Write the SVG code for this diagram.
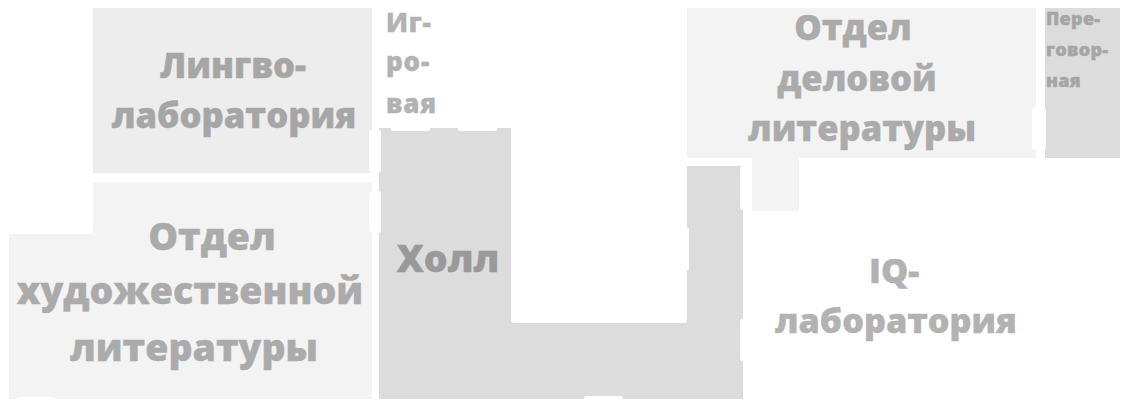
<svg xmlns="http://www.w3.org/2000/svg" width="1129" height="411" viewBox="0 0 1129 411">
<style>
text{font-family:"Open Sans","Noto Sans","DejaVu Sans",sans-serif;font-weight:800;text-anchor:middle;stroke-width:.4px}
.door{fill:#fff}
</style>
<rect width="1129" height="411" fill="#fff"/>
<g id="lingvo"><rect x="93" y="8" width="279" height="165" fill="#ededed"/>
<text font-size="34.6" fill="#a6a6a6" stroke="#a6a6a6"><tspan x="233" y="78">Лингво-</tspan><tspan x="234" y="128">лаборатория</tspan></text></g>
<g id="art"><path d="M93 182H372V399H9V234H90Q93 234 93 231Z" fill="#f3f3f3"/>
<text font-size="37.5" fill="#ababab" stroke="#ababab"><tspan x="212" y="250">Отдел</tspan><tspan x="190" y="304">художественной</tspan><tspan x="194" y="361">литературы</tspan></text></g>
<g id="hall"><path d="M379 128H511V320Q511 323 514 323H684Q687 323 687 320V166H743V399H379Z" fill="#dcdcdc"/>
<text font-size="37.5" fill="#999" stroke="#999"><tspan x="448" y="272">Холл</tspan></text></g>
<g id="game"><text font-size="26" letter-spacing=".8" fill="#b2b2b2" stroke="#b2b2b2" style="text-anchor:start"><tspan x="386" y="32">Иг-</tspan><tspan x="386" y="71">ро-</tspan><tspan x="386" y="113">вая</tspan></text></g>
<g id="business"><path d="M687 8H1036V158H799V211H752V158H687Z" fill="#f3f3f3"/>
<text font-size="34.5" fill="#ababab" stroke="#ababab"><tspan x="853" y="40">Отдел</tspan><tspan x="857" y="91">деловой</tspan><tspan x="862" y="141">литературы</tspan></text></g>
<g id="meeting"><rect x="1045" y="8" width="75" height="150" fill="#dcdcdc"/>
<text font-size="18" letter-spacing=".3" fill="#a5a5a5" stroke="#a5a5a5" style="text-anchor:start"><tspan x="1046" y="25">Пере-</tspan><tspan x="1046" y="56">говор-</tspan><tspan x="1046" y="87">ная</tspan></text></g>
<g id="iq"><text font-size="34.2" fill="#b2b2b2" stroke="#b2b2b2"><tspan x="894" y="283">IQ-</tspan><tspan x="896" y="333">лаборатория</tspan></text></g>
<g id="doors" class="door">
<rect x="369" y="130" width="12" height="42" rx="2"/><rect x="369" y="191" width="12" height="42" rx="2"/>
<rect x="391" y="125" width="39" height="6" rx="2"/><rect x="458" y="125" width="39" height="6" rx="2"/>
<rect x="740" y="166" width="12" height="44" rx="3"/><rect x="1032" y="108" width="14" height="42" rx="3"/>
<rect x="748" y="158" width="4" height="10"/>
<rect x="17" y="397" width="38" height="6" rx="2"/><rect x="584" y="396" width="39" height="6" rx="2"/>
<rect x="740" y="319" width="6" height="42" rx="2"/><rect x="685" y="228" width="4" height="42" rx="1"/>
</g>
</svg>
